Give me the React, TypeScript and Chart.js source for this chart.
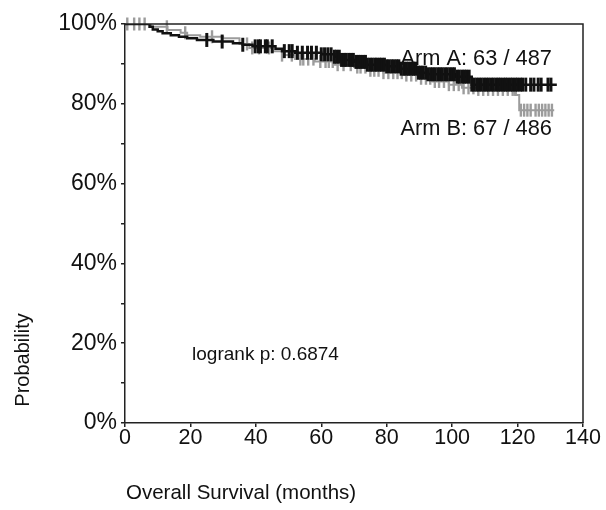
import React, { useEffect, useRef } from "react";
import { Chart, registerables } from "chart.js";

Chart.register(...registerables);

// ---- Data ----
const xTicks = [0, 20, 40, 60, 80, 100, 120, 140];
const yTicksPct = [0, 20, 40, 60, 80, 100];

// Arm A (black) Kaplan-Meier steps: event times (months) and survival (%)
const armATimes = [0, 7.5, 8.5, 10, 11.5, 14, 16.5, 19, 22, 27, 33, 36, 39, 46, 48, 52, 60, 64, 66, 70, 74, 80, 84, 89, 92, 101, 106];
const armASurv = [100, 99.3, 98.6, 98.2, 97.7, 97.2, 96.8, 96.4, 96.0, 95.6, 95.2, 94.8, 94.4, 93.8, 93.2, 92.8, 92.4, 91.8, 91.0, 90.5, 89.8, 89.4, 88.8, 87.8, 87.4, 86.8, 84.8];
const armAEnd = 132;
const armACensor = [
  25, 29.7, 36, 39.8, 40.8, 41.4, 42.9, 43.5, 45, 48.7, 50.2, 51.1, 52.7, 54.2, 55.8, 57, 58.5, 60, 61, 62, 63, 64, 64.7,
  65.5, 66.2, 67, 67.6, 68.4, 69.1, 69.8, 70.6, 71.3, 72, 72.8, 73.5, 74.1, 74.9, 75.6, 76.4, 77, 77.8, 78.5, 79.3, 80,
  80.7, 81.5, 82.2, 83, 83.7, 84.4, 85.2, 86, 86.7, 87.5, 88.2, 88.9, 89.7, 90.4, 91.1, 91.9, 92.6, 93.4, 94.1, 94.8,
  95.6, 96.3, 97, 97.8, 98.5, 99.3, 100, 100.7, 101.5, 102.2, 103, 103.7, 104.4, 105.2, 106, 106.7, 107.5, 108.2, 108.9,
  109.7, 110.4, 111.1, 111.9, 112.6, 113.4, 114.1, 114.8, 115.6, 116.3, 117, 117.8, 118.5, 119.3, 120, 120.8, 121.5,
  122.5, 124, 125, 126.3, 127.2, 129.3, 130.2,
];

// Arm B (grey)
const armBTimes = [0, 8, 13, 17, 19, 23, 30, 35, 38, 45, 48, 52, 58, 64, 70, 75, 79, 85, 90, 94, 99, 103, 108, 119.5, 120.5];
const armBSurv = [100, 99.3, 98.5, 97.8, 97.2, 96.8, 96.4, 95.0, 94.0, 93.2, 92.2, 91.2, 90.6, 89.8, 89.2, 88.4, 87.8, 87.2, 86.4, 85.6, 84.8, 84.0, 83.6, 82.2, 78.4];
const armBEnd = 131.2;
const armBCensor = [
  0.7, 2.8, 4.4, 6, 12.8, 18.4, 26.6, 37.3, 38.9, 41, 44, 48, 51, 53.6, 54.5, 56, 57.6, 59.7, 61.3, 62.3, 63.5, 65, 66.8,
  69, 71, 72, 73.5, 75, 76.2, 77.5, 79, 80.5, 82, 83.3, 84.6, 86, 87.5, 89, 90.5, 92, 93.3, 94.7, 96, 97.5, 99, 100.5,
  102, 103.5, 105, 106.5, 108, 109.5, 111, 112.5, 114, 115.5, 117, 118.5, 119.2, 121, 122, 123, 124, 125.5, 126.5,
  127.5, 128.5, 129.5, 130.5,
];

const armALabel = "Arm A: 63 / 487";
const armBLabel = "Arm B: 67 / 486";
const logrankLabel = "logrank p: 0.6874";
const xTitle = "Overall Survival (months)";
const yTitle = "Probability";

// ---- helpers ----
function stepPoints(times: number[], surv: number[], end: number) {
  const pts = times.map((t, i) => ({ x: t, y: surv[i] }));
  pts.push({ x: end, y: surv[surv.length - 1] });
  return pts;
}
function survAt(times: number[], surv: number[], t: number) {
  let s = surv[0];
  for (let i = 0; i < times.length; i++) if (times[i] <= t) s = surv[i];
  return s;
}
function censorPoints(censor: number[], times: number[], surv: number[]) {
  return censor.map((t) => ({ x: t, y: survAt(times, surv, t) }));
}

const FONT = "'Liberation Sans', Arial, Helvetica, sans-serif";
const BLACK = "#111111";
const GREY = "#9c9c9c";

const textPlugin = {
  id: "kmText",
  afterDatasetsDraw(chart: any) {
    const { ctx, chartArea, scales } = chart;
    const xs = scales.x;
    const ys = scales.y;
    ctx.save();
    // frame top + right
    ctx.strokeStyle = "#222";
    ctx.lineWidth = 1.5;
    ctx.beginPath();
    ctx.moveTo(chartArea.left, chartArea.top);
    ctx.lineTo(chartArea.right, chartArea.top);
    ctx.lineTo(chartArea.right, chartArea.bottom);
    ctx.stroke();

    ctx.fillStyle = BLACK;
    ctx.textBaseline = "middle";
    ctx.textAlign = "left";
    ctx.font = `21.8px ${FONT}`;
    ctx.fillText(armALabel, xs.getPixelForValue(84.2), ys.getPixelForValue(91.2));
    ctx.fillText(armBLabel, xs.getPixelForValue(84.2), ys.getPixelForValue(73.7));
    ctx.font = `19px ${FONT}`;
    ctx.fillText(logrankLabel, xs.getPixelForValue(20.5), ys.getPixelForValue(17));

    // axis titles
    ctx.font = `20.5px ${FONT}`;
    ctx.fillText(xTitle, chartArea.left + 1, 493);
    ctx.translate(23, 360);
    ctx.rotate(-Math.PI / 2);
    ctx.textAlign = "center";
    ctx.font = `20px ${FONT}`;
    ctx.fillText(yTitle, 0, 0);
    ctx.restore();
  },
};

export default function App() {
  const ref = useRef<HTMLCanvasElement | null>(null);
  useEffect(() => {
    if (!ref.current) return;
    const chart = new Chart(ref.current, {
      type: "scatter",
      data: {
        datasets: [
          {
            label: "Arm A censored",
            data: censorPoints(armACensor, armATimes, armASurv),
            showLine: false,
            pointStyle: "line",
            pointRotation: 90,
            rotation: 90,
            pointRadius: 7,
            pointBorderWidth: 3,
            borderWidth: 3,
            borderColor: BLACK,
            backgroundColor: BLACK,
            clip: false,
          } as any,
          {
            label: "Arm A",
            data: stepPoints(armATimes, armASurv, armAEnd),
            showLine: true,
            stepped: "before",
            borderColor: BLACK,
            borderWidth: 2.5,
            pointRadius: 0,
          } as any,
          {
            label: "Arm B censored",
            data: censorPoints(armBCensor, armBTimes, armBSurv),
            showLine: false,
            pointStyle: "line",
            pointRotation: 90,
            rotation: 90,
            pointRadius: 6.5,
            pointBorderWidth: 2.4,
            borderWidth: 2.4,
            borderColor: GREY,
            backgroundColor: GREY,
            clip: false,
          } as any,
          {
            label: "Arm B",
            data: stepPoints(armBTimes, armBSurv, armBEnd),
            showLine: true,
            stepped: "before",
            borderColor: GREY,
            borderWidth: 2,
            pointRadius: 0,
          } as any,
        ],
      },
      options: {
        animation: false,
        responsive: true,
        maintainAspectRatio: false,
        layout: { padding: { top: 24, right: 23, bottom: 0, left: 0 } },
        plugins: { legend: { display: false }, tooltip: { enabled: false } },
        scales: {
          x: {
            type: "linear",
            min: 0,
            max: 140,
            afterBuildTicks: (s: any) => {
              s.ticks = xTicks.map((v) => ({ value: v }));
            },
            afterFit: (s: any) => {
              s.height = 87;
            },
            ticks: {
              stepSize: 20,
              padding: -2,
              color: BLACK,
              font: { family: FONT, size: 21.5 },
              maxRotation: 0,
            },
            grid: { drawOnChartArea: false, drawTicks: true, tickLength: 4, color: "#222", lineWidth: 1.5 },
            border: { display: true, color: "#222", width: 1.5 },
          },
          y: {
            type: "linear",
            min: 0,
            max: 100,
            afterFit: (s: any) => {
              s.width = 125;
            },
            ticks: {
              stepSize: 10,
              padding: 4,
              color: BLACK,
              font: { family: FONT, size: 23 },
              callback: (v: any) => (yTicksPct.includes(Number(v)) ? `${v}%` : ""),
            },
            grid: { drawOnChartArea: false, drawTicks: true, tickLength: 4, color: "#222", lineWidth: 1.5 },
            border: { display: true, color: "#222", width: 1.5 },
          },
        },
      },
      plugins: [textPlugin],
    });
    return () => chart.destroy();
  }, []);
  return (
    <div style={{ position: "absolute", left: 0, top: 0, width: 606, height: 510, background: "#fff" }}>
      <canvas ref={ref} />
    </div>
  );
}
